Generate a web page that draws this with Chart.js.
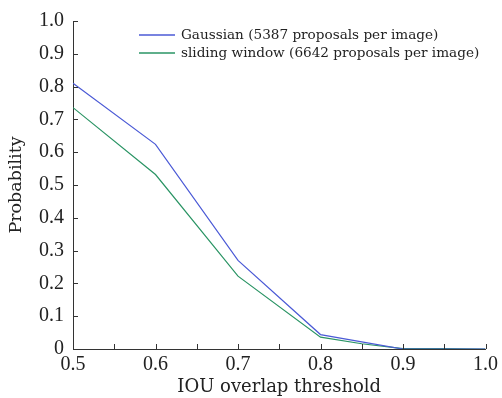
<!DOCTYPE html>
<html>
<head>
<meta charset="utf-8">
<script src="https://cdn.jsdelivr.net/npm/chart.js@4.4.1/dist/chart.umd.min.js"></script>
<style>
  html, body { margin: 0; padding: 0; background: #fff; }
  #wrap { width: 502px; height: 398px; position: relative; }
</style>
</head>
<body>
<div id="wrap"><canvas id="iouChart"></canvas></div>
<script>
// IOU thresholds (x) and recall probability for each proposal method
var thresholds = [0.5, 0.6, 0.7, 0.8, 0.85, 0.9, 0.95, 1.0];
var gaussianVals = [0.81, 0.624, 0.27, 0.044, 0.022, 0.0, 0.0, 0.0];
var slidingVals = [0.736, 0.532, 0.222, 0.036, 0.016, 0.001, 0.001, 0.0];
var seriesNames = ["Gaussian (5387 proposals per image)", "sliding window (6642 proposals per image)"];
var yTicks = [0, 0.1, 0.2, 0.3, 0.4, 0.5, 0.6, 0.7, 0.8, 0.9, 1.0];
var xTicks = [0.5, 0.6, 0.7, 0.8, 0.9, 1.0];
var xMinorTicks = [0.55, 0.6, 0.65, 0.7, 0.75, 0.8, 0.85, 0.9, 0.95, 1.0];

var serif = "'DejaVu Serif', 'Liberation Serif', serif";
var tickSerif = "'Liberation Serif', 'DejaVu Serif', serif";
var textColor = '#222';

function toPoints(vals) {
    return thresholds.map((x, i) => ({ x: x, y: vals[i] }));
}

// inward tick marks like the original figure
var innerTicks = {
    id: 'innerTicks',
    afterDraw(chart) {
        var ctx = chart.ctx, xs = chart.scales.x, ys = chart.scales.y;
        var area = chart.chartArea;
        ctx.save();
        ctx.strokeStyle = '#333';
        ctx.lineWidth = 1;
        ctx.beginPath();
        yTicks.forEach(v => {
            var py = Math.round(ys.getPixelForValue(v)) + 0.5;
            ctx.moveTo(area.left, py);
            ctx.lineTo(area.left + 5, py);
        });
        xMinorTicks.forEach(v => {
            var px = Math.round(xs.getPixelForValue(v)) + 0.5;
            ctx.moveTo(px, area.bottom);
            ctx.lineTo(px, area.bottom - 5);
        });
        ctx.stroke();
        ctx.restore();
    }
};

// legend drawn inside the plot, upper right
var insideLegend = {
    id: 'insideLegend',
    afterDraw(chart) {
        var ctx = chart.ctx;
        var x0 = 139, y0 = 35, gap = 18;
        ctx.save();
        ctx.font = "13.6px " + serif;
        ctx.textBaseline = 'middle';
        chart.data.datasets.forEach((ds, i) => {
            var y = y0 + i * gap;
            ctx.strokeStyle = ds.borderColor;
            ctx.lineWidth = 1.6;
            ctx.beginPath();
            ctx.moveTo(x0, y);
            ctx.lineTo(x0 + 36, y);
            ctx.stroke();
            ctx.fillStyle = textColor;
            ctx.fillText(ds.label, x0 + 42, y);
        });
        ctx.restore();
    }
};

var ctx = document.getElementById('iouChart').getContext('2d');
var myChart = new Chart(ctx, {
    type: 'line',
    data: {
        datasets: [{
            label: seriesNames[0],
            data: toPoints(gaussianVals),
            borderColor: '#4b5ad6',
            borderWidth: 1.2,
            pointRadius: 0,
            fill: false,
            tension: 0
        }, {
            label: seriesNames[1],
            data: toPoints(slidingVals),
            borderColor: '#2a9464',
            borderWidth: 1.2,
            pointRadius: 0,
            fill: false,
            tension: 0
        }]
    },
    options: {
        responsive: true,
        maintainAspectRatio: false,
        animation: false,
        layout: { padding: { top: 20, right: 13, left: 0, bottom: 0 } },
        plugins: {
            legend: { display: false },
            tooltip: { enabled: false }
        },
        scales: {
            x: {
                type: 'linear',
                min: 0.5,
                max: 1.0,
                afterBuildTicks: (s) => { s.ticks = xTicks.map(v => ({ value: v })); },
                afterFit: (s) => { s.height = 49; },
                grid: { display: false, drawTicks: false },
                border: { display: true, color: '#333', width: 1 },
                ticks: {
                    color: textColor,
                    font: { family: tickSerif, size: 20 },
                    padding: 4,
                    maxRotation: 0,
                    callback: (v) => Number(v).toFixed(1)
                },
                title: {
                    display: true,
                    text: 'IOU overlap threshold',
                    color: textColor,
                    font: { family: serif, size: 18 },
                    padding: { top: 0, bottom: 0 }
                }
            },
            y: {
                min: 0,
                max: 1.0,
                afterBuildTicks: (s) => { s.ticks = yTicks.map(v => ({ value: v })); },
                afterFit: (s) => { s.width = 73; },
                grid: { display: false, drawTicks: false },
                border: { display: true, color: '#333', width: 1 },
                ticks: {
                    color: textColor,
                    font: { family: tickSerif, size: 20 },
                    padding: 9,
                    callback: (v) => v === 0 ? '0' : Number(v).toFixed(1)
                },
                title: {
                    display: true,
                    text: 'Probability',
                    color: textColor,
                    font: { family: serif, size: 17.5 },
                    padding: { top: 6, bottom: 0 }
                }
            }
        }
    },
    plugins: [innerTicks, insideLegend]
});
</script>
</body>
</html>
